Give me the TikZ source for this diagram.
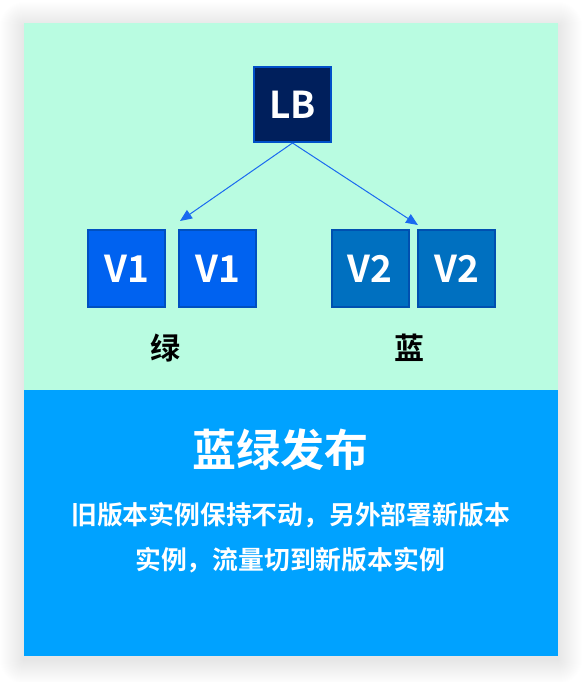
\documentclass[tikz,border=0pt]{standalone}
\usepackage{fontspec}
\setmainfont{Noto Sans CJK SC}[BoldFont={Noto Sans CJK SC Bold}]
\usetikzlibrary{arrows.meta}
\definecolor{mint}{HTML}{B9FCE1}
\definecolor{bottomblue}{HTML}{00A2FF}
\definecolor{lbfill}{HTML}{001F5C}
\definecolor{lbborder}{HTML}{0050C8}
\definecolor{vafill}{HTML}{0062F0}
\definecolor{vaborder}{HTML}{0050C0}
\definecolor{vbfill}{HTML}{0070C0}
\definecolor{vbborder}{HTML}{0050B0}
\definecolor{arrowcol}{HTML}{1A6AF0}
\tikzset{
  box/.style={draw, line width=2pt, minimum width=77pt, minimum height=77pt, inner sep=0pt,
    text=white, font=\fontsize{37}{37}\selectfont\bfseries},
  vbox/.style={box, fill=vafill, draw=vaborder},
  wbox/.style={box, fill=vbfill, draw=vbborder},
  lbl/.style={font=\fontsize{30}{30}\selectfont\bfseries, text=black, inner sep=0pt},
  conn/.style={draw=arrowcol, line width=1pt, -{Triangle[length=12pt,width=10pt]}},
  desc/.style={text=white, font=\fontsize{25.8}{26}\selectfont\bfseries, inner sep=0pt},
  shadowlayer/.style={fill=black, opacity=0.0045},
}
\begin{document}
\begin{tikzpicture}[x=1pt,y=-1pt]
\useasboundingbox (0,0) rectangle (582,682);
\fill[white] (0,0) rectangle (582,682);
% soft shadow
\foreach \i in {1,...,24} {
  \fill[shadowlayer, rounded corners=\i pt] (24-\i,26-\i) rectangle (558+\i,660+\i);
}
\fill[mint] (24,23) rectangle (558,390);
\fill[bottomblue] (24,390) rectangle (558,656);
% nodes
\node[box, fill=lbfill, draw=lbborder, minimum height=75pt] (LB) at (292.5,104.5) {LB};
\node[vbox] (v1a) at (126.5,268.5) {V1};
\node[vbox] (v1b) at (217.5,268.5) {V1};
\node[wbox] (v2a) at (370,268.5) {V2};
\node[wbox] (v2b) at (456.5,268.5) {V2};
\node[lbl] (green) at (165,348) {绿};
\node[lbl] (blue) at (409,348) {蓝};
\coordinate (tipL) at (180,221);
\coordinate (tipR) at (418,225);
\draw[conn] (LB.south) -- (tipL);
\draw[conn] (LB.south) -- (tipR);
% text
\node[text=white, font=\fontsize{44}{44}\selectfont\bfseries, inner sep=0pt] (title) at (280,450) {蓝绿发布};
\node[desc] (desc1) at (290.5,515) {旧版本实例保持不动，另外部署新版本};
\node[desc] (desc2) at (290,560) {实例，流量切到新版本实例};
\end{tikzpicture}
\end{document}
